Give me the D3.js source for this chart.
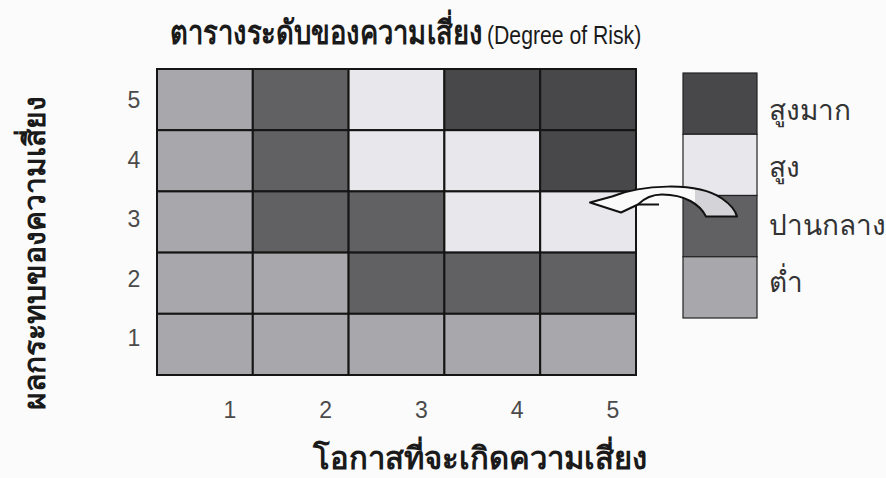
<!DOCTYPE html>
<html>
<head>
<meta charset="utf-8">
<script src="https://cdn.jsdelivr.net/npm/d3@7/dist/d3.min.js"></script>
<style>
  html, body { margin: 0; padding: 0; background: #fbfbfb; }
  svg { display: block; }
</style>
</head>
<body>
<svg id="chart" width="886" height="478"></svg>
<script>
// ---- data ----
const likelihood = [1, 2, 3, 4, 5];          // x categories (columns)
const impact = [5, 4, 3, 2, 1];              // y categories (rows, top to bottom)
const levels = ["vh", "h", "m", "l"];        // legend order top to bottom
const levelLabels = ["สูงมาก", "สูง", "ปานกลาง", "ต่ำ"];
// risk level per row (impact 5..1) and column (likelihood 1..5)
const row5 = ["l", "m", "h", "vh", "vh"];
const row4 = ["l", "m", "h", "h", "vh"];
const row3 = ["l", "m", "m", "h", "h"];
const row2 = ["l", "l", "m", "m", "m"];
const row1 = ["l", "l", "l", "l", "l"];
const xTickLabels = ["1", "2", "3", "4", "5"];
const yTickLabels = ["5", "4", "3", "2", "1"];
const titleThai = "ตารางระดับของความเสี่ยง";
const titleEng = "(Degree of Risk)";
const xTitle = "โอกาสที่จะเกิดความเสี่ยง";
const yTitle = "ผลกระทบของความเสี่ยง";

const rows = [row5, row4, row3, row2, row1];
const cells = [];
rows.forEach((r, i) => r.forEach((lv, j) => cells.push({ x: likelihood[j], y: impact[i], level: lv })));

const svg = d3.select("#chart");
const color = d3.scaleOrdinal().domain(levels).range(["#48484b", "#e8e8ec", "#616163", "#a8a8ac"]);

const x = d3.scaleBand().domain(likelihood).range([157, 636]);
const y = d3.scaleBand().domain(impact).range([69, 375]);
const xLab = d3.scalePoint().domain(xTickLabels).range([230, 613]);
const yLab = d3.scalePoint().domain(yTickLabels).range([100, 338]);

// cells
svg.append("g").selectAll("rect").data(cells).join("rect")
  .attr("x", d => x(d.x)).attr("y", d => y(d.y))
  .attr("width", x.bandwidth()).attr("height", y.bandwidth())
  .attr("fill", d => color(d.level))
  .attr("stroke", "#151515").attr("stroke-width", 2);

// tick labels
svg.append("g").selectAll("text").data(xTickLabels).join("text")
  .attr("x", d => xLab(d)).attr("y", 410)
  .attr("text-anchor", "middle").attr("dominant-baseline", "central")
  .attr("font-family", "Liberation Sans, Arial, sans-serif").attr("font-size", 23)
  .attr("fill", "#4a4a4a").text(d => d);
svg.append("g").selectAll("text").data(yTickLabels).join("text")
  .attr("x", 134).attr("y", d => yLab(d))
  .attr("text-anchor", "middle").attr("dominant-baseline", "central")
  .attr("font-family", "Liberation Sans, Arial, sans-serif").attr("font-size", 23)
  .attr("fill", "#4a4a4a").text(d => d);

// legend
const ly = d3.scaleBand().domain(levels).range([73, 318]);
const lyLab = d3.scalePoint().domain(levels).range([109, 281]);
const lg = svg.append("g");
lg.selectAll("rect").data(levels).join("rect")
  .attr("x", 683).attr("y", d => ly(d)).attr("width", 74).attr("height", ly.bandwidth())
  .attr("fill", d => color(d)).attr("stroke", "#222").attr("stroke-width", 1.2);
lg.selectAll("text").data(levels).join("text")
  .attr("x", 769).attr("y", d => lyLab(d))
  .attr("dominant-baseline", "central")
  .attr("font-family", "Noto Sans, sans-serif").attr("font-size", 28)
  .attr("fill", "#333").text((d, i) => levelLabels[i]);

// curved arrow annotation (from legend "ปานกลาง" to cell)
const defs = svg.append("defs");
const grad = defs.append("linearGradient").attr("id", "ag")
  .attr("gradientUnits", "userSpaceOnUse").attr("x1", 580).attr("x2", 740).attr("y1", 0).attr("y2", 0);
grad.append("stop").attr("offset", 0.72).attr("stop-color", "#fafafa");
grad.append("stop").attr("offset", 0.72).attr("stop-color", "#d4d4d8");
const ax = 683, ayy = ly("m");
const p = d3.path();
p.moveTo(ax - 93, ayy + 7);
p.lineTo(ax - 71, ayy + 1);
p.bezierCurveTo(ax - 43, ayy - 10, ax + 12, ayy - 15, ax + 39, ayy + 3);
p.bezierCurveTo(ax + 49, ayy + 10, ax + 53, ayy + 17, ax + 54, ayy + 21);
p.lineTo(ax + 23, ayy + 21);
p.bezierCurveTo(ax + 17, ayy + 9, ax + 2, ayy - 1, ax - 21, ayy - 1);
p.bezierCurveTo(ax - 33, ayy - 1, ax - 41, ayy + 5, ax - 45, ayy + 9);
p.lineTo(ax - 62, ayy + 17);
p.closePath();
svg.append("path").attr("d", p.toString())
  .attr("fill", "url(#ag)").attr("stroke", "#111").attr("stroke-width", 2).attr("stroke-linejoin", "round");
svg.append("line").attr("x1", ax - 45).attr("y1", ayy + 9).attr("x2", ax - 24).attr("y2", ayy + 9)
  .attr("stroke", "#111").attr("stroke-width", 2);

// titles
svg.append("text").attr("transform", "translate(170,44) scale(0.83,1)")
  .attr("font-family", "Noto Sans, sans-serif").attr("font-size", 33).attr("font-weight", "bold")
  .attr("fill", "#1a1a1a").text(titleThai);
svg.append("text").attr("transform", "translate(487,44) scale(0.8,1)")
  .attr("font-family", "Liberation Sans, Arial, sans-serif").attr("font-size", 26.5)
  .attr("fill", "#1a1a1a").text(titleEng);

svg.append("text").attr("x", 480).attr("y", 469).attr("text-anchor", "middle")
  .attr("font-family", "Noto Sans, sans-serif").attr("font-size", 31).attr("font-weight", "bold")
  .attr("fill", "#1a1a1a").text(xTitle);

svg.append("text").attr("transform", "translate(45,253) rotate(-90)").attr("text-anchor", "middle")
  .attr("font-family", "Noto Sans, sans-serif").attr("font-size", 30).attr("font-weight", "bold")
  .attr("fill", "#1a1a1a").text(yTitle);
</script>
</body>
</html>
